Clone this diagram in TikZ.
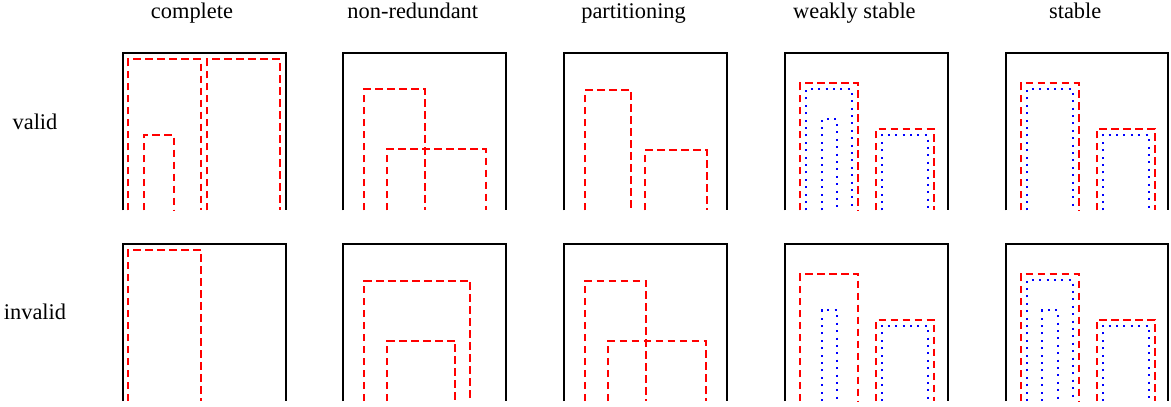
\documentclass[tikz,border=0pt]{standalone}
\usepackage{fontspec}
\setmainfont{Liberation Serif}
\newcommand{\openr}[4][]{\draw[#1] (#2,157) -- (#2,#4) -- (#3,#4) -- (#3,157);}
\begin{document}
\begin{tikzpicture}[x=1pt,y=-1pt,
  frame/.style={draw=black,line width=2pt},
  rd/.style={draw=red,line width=2pt,dash pattern=on 7.5pt off 4.5pt},
  bd/.style={draw=blue,line width=2pt,dash pattern=on 2pt off 5.4pt},
  lab/.style={anchor=base,inner sep=0pt,font=\fontsize{22.4}{26}\selectfont}]
\useasboundingbox (0,0) rectangle (1171,407);
% headers
\node[lab] (hc) at (192,18.5) {complete};
\node[lab] (hn) at (412.8,18.5) {non-redundant};
\node[lab] (hp) at (633.6,18.5) {partitioning};
\node[lab] (hw) at (854.4,18.5) {weakly stable};
\node[lab] (hs) at (1075.2,18.5) {stable};
\node[lab] (rv) at (35,129) {valid};
\node[lab] (ri) at (35,319) {invalid};
% complete valid
\begin{scope}[shift={(122.5,53.3)}]
\openr[frame]{0}{163}{0}
\openr[rd]{5.8}{78.5}{6}
\openr[rd]{84.5}{157.5}{6}
\openr[rd]{21.2}{51.2}{81.7}
\end{scope}
% complete invalid
\begin{scope}[shift={(122.5,244)}]
\openr[frame]{0}{163}{0}
\openr[rd]{5.8}{78.5}{6}
\end{scope}
% non-redundant valid
\begin{scope}[shift={(343.3,53.3)}]
\openr[frame]{0}{163}{0}
\openr[rd]{20.8}{82}{36}
\openr[rd]{43.8}{142.4}{96}
\end{scope}
% non-redundant invalid
\begin{scope}[shift={(343.3,244)}]
\openr[frame]{0}{163}{0}
\openr[rd]{21}{127}{36.7}
\openr[rd]{44}{112}{96.7}
\end{scope}
% partitioning valid
\begin{scope}[shift={(564,53.3)}]
\openr[frame]{0}{163}{0}
\openr[rd]{21}{67}{37}
\openr[rd]{81}{143}{97}
\end{scope}
% partitioning invalid
\begin{scope}[shift={(564,244)}]
\openr[frame]{0}{163}{0}
\openr[rd]{21}{82}{36.7}
\openr[rd]{44}{142}{96.7}
\end{scope}
% weakly stable valid
\begin{scope}[shift={(785,53.3)}]
\openr[frame]{0}{163}{0}
\openr[rd]{15.3}{73}{29.7}
\openr[bd]{21}{66.7}{36}
\openr[bd]{36.7}{52}{66}
\openr[rd]{91}{148.7}{75.7}
\openr[bd]{96.7}{142.7}{81.7}
\end{scope}
% weakly stable invalid
\begin{scope}[shift={(785,244)}]
\openr[frame]{0}{163}{0}
\openr[rd]{15.3}{73}{29.7}
\openr[bd]{36.7}{52}{66.3}
\openr[rd]{91}{148.7}{75.7}
\openr[bd]{96.7}{142.7}{81.7}
\end{scope}
% stable valid
\begin{scope}[shift={(1006,53.3)}]
\openr[frame]{0}{162}{0}
\openr[rd]{15}{72.7}{29.7}
\openr[bd]{21}{66.7}{36}
\openr[rd]{90.7}{148.7}{75.5}
\openr[bd]{96.7}{142.7}{81.5}
\end{scope}
% stable invalid
\begin{scope}[shift={(1006,244)}]
\openr[frame]{0}{162}{0}
\openr[rd]{15}{72.7}{29.7}
\openr[bd]{21}{66.7}{36}
\openr[bd]{36.3}{51.7}{66.3}
\openr[rd]{90.7}{148.7}{75.5}
\openr[bd]{96.7}{142.7}{81.5}
\end{scope}
\end{tikzpicture}
\end{document}
